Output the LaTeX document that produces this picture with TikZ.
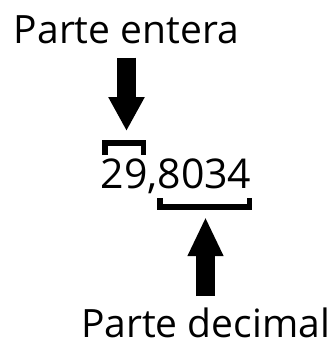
\documentclass[tikz,border=0pt]{standalone}
\usepackage{fontspec}
\setmainfont{Open Sans}
\usetikzlibrary{arrows.meta,positioning}

\begin{document}
\begin{tikzpicture}[
  x=1pt, y=-1pt,
  etiqueta/.style={inner sep=0pt, anchor=base, font=\fontsize{39}{39}\selectfont},
  cifra/.style={inner sep=0pt, anchor=base, font=\fontsize{41}{41}\selectfont},
  flecha/.style={line width=19pt, -{Triangle[length=34pt, width=34pt]}},
  flechab/.style={line width=19pt, -{Triangle[length=39pt, width=33pt]}},
  llave/.style={line width=5.5pt, line cap=butt, line join=miter},
]
\useasboundingbox (0,0) rectangle (335,341);
\node[etiqueta] (entera) at (126.5,43) {Parte entera};
\node[cifra] (numero) at (176,188) {29,8034};
\node[etiqueta] (decimal) at (205.5,337) {Parte decimal};
\coordinate (puntaA) at (126.5,131);
\coordinate (puntaB) at (205.5,217);
% flechas
\draw[flecha, shorten <=14pt] (entera.south) -- (puntaA);
\draw[flechab, shorten <=11pt] (decimal.north) -- (puntaB);
% llaves
\draw[llave] (105,155) -- (105,142.75) -- (143.25,142.75) -- (143.25,155);
\draw[llave] (160,198) -- (160,207) -- (249.5,207) -- (249.5,198);
\end{tikzpicture}
\end{document}
